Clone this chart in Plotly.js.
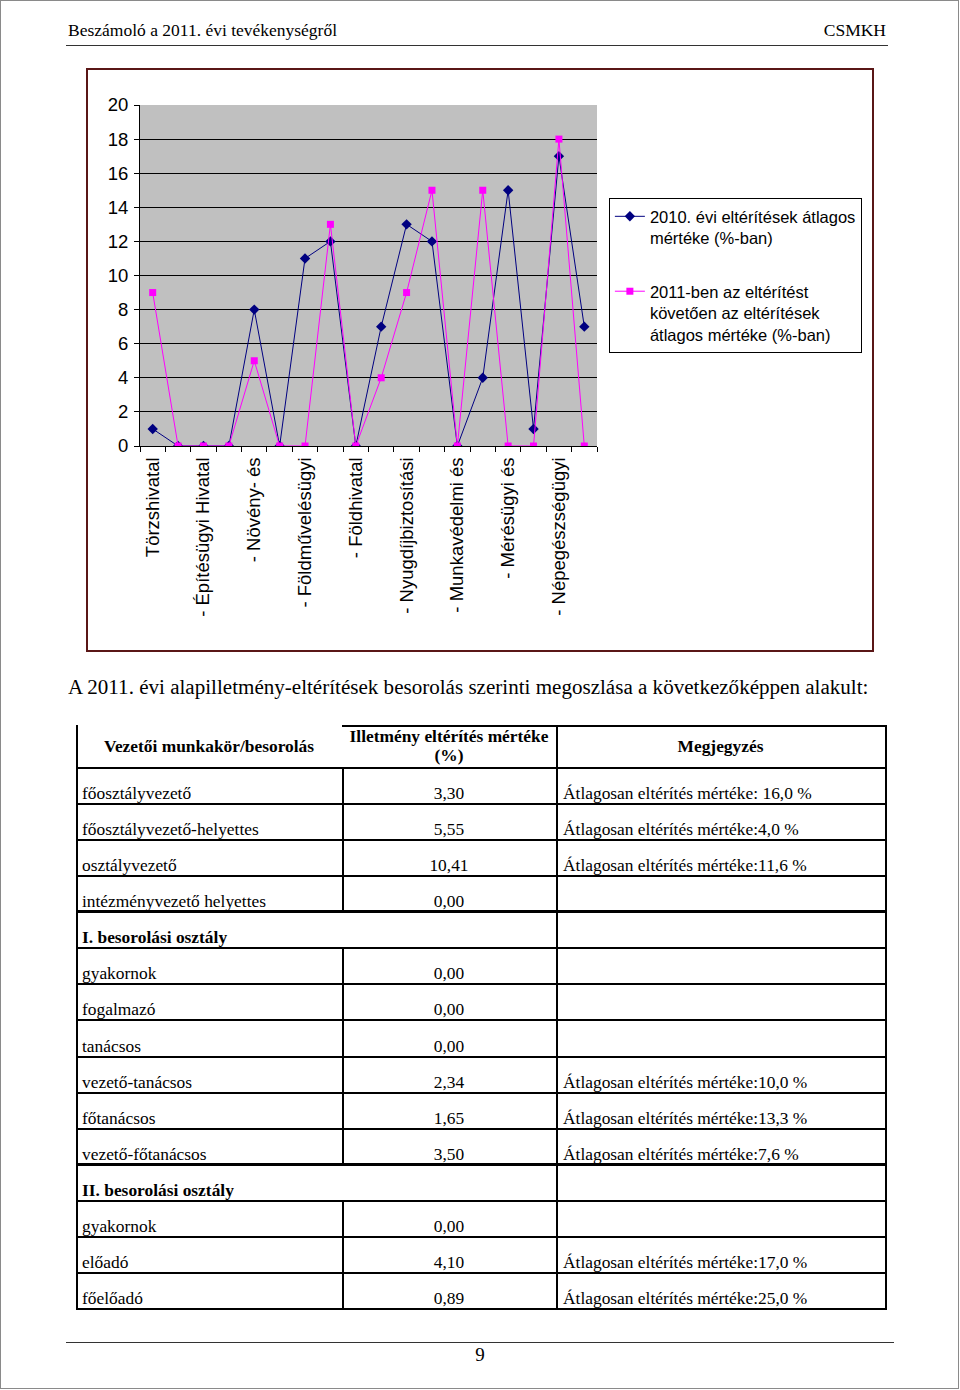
<!DOCTYPE html>
<html><head><meta charset="utf-8">
<script src="https://cdn.plot.ly/plotly-3.0.1.min.js"></script>
<style>
html,body{margin:0;padding:0;background:#fff;}
#page{position:relative;width:960px;height:1390px;overflow:hidden;font-family:"Liberation Serif","Times New Roman",serif;color:#000;}
.abs{position:absolute;}
.hl{position:absolute;background:#000;}
.cell{position:absolute;font-size:17.4px;white-space:nowrap;line-height:19px;}
</style></head>
<body><div id="page">
<div class="abs" style="left:0;top:0;width:957px;height:1387px;border:1px solid #8a8a8a;"></div>
<div class="abs" style="left:68px;top:20px;font-size:17.5px;">Beszámoló a 2011. évi tevékenységről</div>
<div class="abs" style="right:74px;top:20px;font-size:17.5px;">CSMKH</div>
<div class="abs" style="left:66px;top:45px;width:822px;height:1px;background:#333;"></div>
<div class="abs" style="left:86px;top:68px;width:784px;height:580px;border:2px solid #5a1616;"></div>
<div id="chart" class="abs" style="left:89px;top:71px;width:780px;height:576px;"></div>
<div class="abs" id="para" style="left:68px;top:676px;font-size:20px;white-space:nowrap;transform:scaleX(1.053);transform-origin:0 0;">A 2011. évi alapilletmény-eltérítések besorolás szerinti megoszlása a következőképpen alakult:</div>
<div id="tbl"></div>
<div class="abs" style="left:66px;top:1342px;width:828px;height:1px;background:#333;"></div>
<div class="abs" style="left:0;width:960px;top:1344px;text-align:center;font-size:19px;">9</div>
</div>
<script>
// ---- chart data ----
const categories = ["Törzshivatal","","- Építésügyi Hivatal","","- Növény- és","","- Földművelésügyi","","- Földhivatal","","- Nyugdíjbiztosítási","","- Munkavédelmi és","","- Mérésügyi és","","- Népegészségügyi",""];
const avg2010 = [1,0,0,0,8,0,11,12,0,7,13,12,0,4,15,1,17,7];
const avg2011 = [9,0,0,0,5,0,0,13,0,4,9,15,0,15,0,0,18,0];
const seriesNames = ["2010. évi eltérítések átlagos<br>mértéke (%-ban)","2011-ben az eltérítést<br>követően az eltérítések<br>átlagos mértéke (%-ban)"];
const yTicks = [0,2,4,6,8,10,12,14,16,18,20];

// ---- table data ----
const headers = ["Vezetői munkakör/besorolás","Illetmény eltérítés mértéke<br>(%)","Megjegyzés"];
const roles = ["főosztályvezető","főosztályvezető-helyettes","osztályvezető","intézményvezető helyettes","I. besorolási osztály","gyakornok","fogalmazó","tanácsos","vezető-tanácsos","főtanácsos","vezető-főtanácsos","II. besorolási osztály","gyakornok","előadó","főelőadó"];
const rates = ["3,30","5,55","10,41","0,00","","0,00","0,00","0,00","2,34","1,65","3,50","","0,00","4,10","0,89"];
const notes = ["Átlagosan eltérítés mértéke: 16,0 %","Átlagosan eltérítés mértéke:4,0 %","Átlagosan eltérítés mértéke:11,6 %","","","","","","Átlagosan eltérítés mértéke:10,0 %","Átlagosan eltérítés mértéke:13,3 %","Átlagosan eltérítés mértéke:7,6 %","","","Átlagosan eltérítés mértéke:17,0 %","Átlagosan eltérítés mértéke:25,0 %"];
const groupRows = [4,11];

const idx = categories.map((c,i)=>i);
const traces = [
 {x:idx,y:avg2010,type:'scatter',mode:'lines+markers',name:seriesNames[0],legendgroup:'a',
  line:{color:'#000080',width:1},marker:{symbol:'diamond',size:8,color:'#000080'}},
 {x:idx,y:avg2011,type:'scatter',mode:'lines+markers',name:seriesNames[1],legendgroup:'b',
  line:{color:'#FF00FF',width:1},marker:{symbol:'square',size:7,color:'#FF00FF'}}
];
const bounds = idx.concat([categories.length]).map(i=>i-0.5);
const layout = {
 width:780,height:576,paper_bgcolor:'#fff',plot_bgcolor:'#C0C0C0',
 margin:{l:51,r:272,t:34,b:201,autoexpand:false},
 font:{family:'"Liberation Sans", Arial, sans-serif',size:17,color:'#000'},
 showlegend:true,
 legend:{x:1.026,y:0.727,xanchor:'left',yanchor:'top',bgcolor:'#fff',bordercolor:'#000',borderwidth:1,
   font:{size:16.5},valign:'top',tracegroupgap:29,traceorder:'grouped'},
 xaxis:{range:[-0.5,categories.length-0.5],tickmode:'array',tickvals:idx,ticktext:categories,tickangle:-90,
   ticks:'',showgrid:false,zeroline:false,showline:true,linecolor:'#000',linewidth:1,
   tickfont:{size:18.5},ticklabelstandoff:3,
   minor:{tickmode:'array',tickvals:bounds,ticks:'outside',ticklen:5,tickcolor:'#000',tickwidth:1,showgrid:false}},
 yaxis:{range:[0,20],tickmode:'array',tickvals:yTicks,ticks:'outside',ticklen:5,tickcolor:'#000',
   showgrid:true,gridcolor:'#000',gridwidth:1,zeroline:false,showline:true,linecolor:'#000',linewidth:1,
   tickfont:{size:18.5},ticklabelstandoff:2}
};
Plotly.newPlot('chart',traces,layout,{staticPlot:true,displayModeBar:false});

// ---- table build ----
const tbl = document.getElementById('tbl');
const X0=76,X1=342,X2=556,X3=885;
const headTop=725, bodyTop=767, rowH=36.07;
function line(l,t,w,h){const d=document.createElement('div');d.className='hl';d.style.left=l+'px';d.style.top=t+'px';d.style.width=w+'px';d.style.height=h+'px';tbl.appendChild(d);}
function cell(html,l,w,top,h,align,bold,pb){const d=document.createElement('div');d.className='cell';
 d.style.left=l+'px';d.style.width=w+'px';d.style.top=top+'px';d.style.height=h+'px';
 d.style.display='flex';d.style.flexDirection='column';d.style.justifyContent=pb==null?'center':'flex-end';
 if(pb!=null)d.style.paddingBottom=pb+'px',d.style.height=(h-pb)+'px';
 d.style.textAlign=align;if(bold)d.style.fontWeight='bold';d.innerHTML=html;tbl.appendChild(d);}
// header
cell(headers[0],X0,X1-X0,headTop,bodyTop-headTop,'center',true);
cell(headers[1],X1,X2-X1,headTop,bodyTop-headTop,'center',true);
cell(headers[2],X2,X3-X2,headTop,bodyTop-headTop,'center',true);
line(X1,headTop,X3-X1+1,2);
const bottom = bodyTop+roles.length*rowH;
line(X0,headTop,1.5,bottom-headTop);
line(X2,headTop,1.5,bottom-headTop+1);
line(X3,headTop,1.5,bottom-headTop+1);
for(let i=0;i<=roles.length;i++){
 const y=Math.round(bodyTop+i*rowH);
 const thick = groupRows.includes(i);
 line(X0,y-(thick?1:0),X3-X0+1.5,thick?3:1.5);
}
roles.forEach((r,i)=>{
 const top=bodyTop+i*rowH; const g=groupRows.includes(i);
 if(!g) line(X1,Math.round(top),1.5,Math.round(rowH)+1);
 cell(r,X0+6,g?X2-X0-6:X1-X0-6,top,rowH,'left',g,0);
 if(!g) cell(rates[i],X1,X2-X1,top,rowH,'center',false,0);
 cell(notes[i],X2+7,X3-X2-7,top,rowH,'left',false,0);
});
</script>
</body></html>
